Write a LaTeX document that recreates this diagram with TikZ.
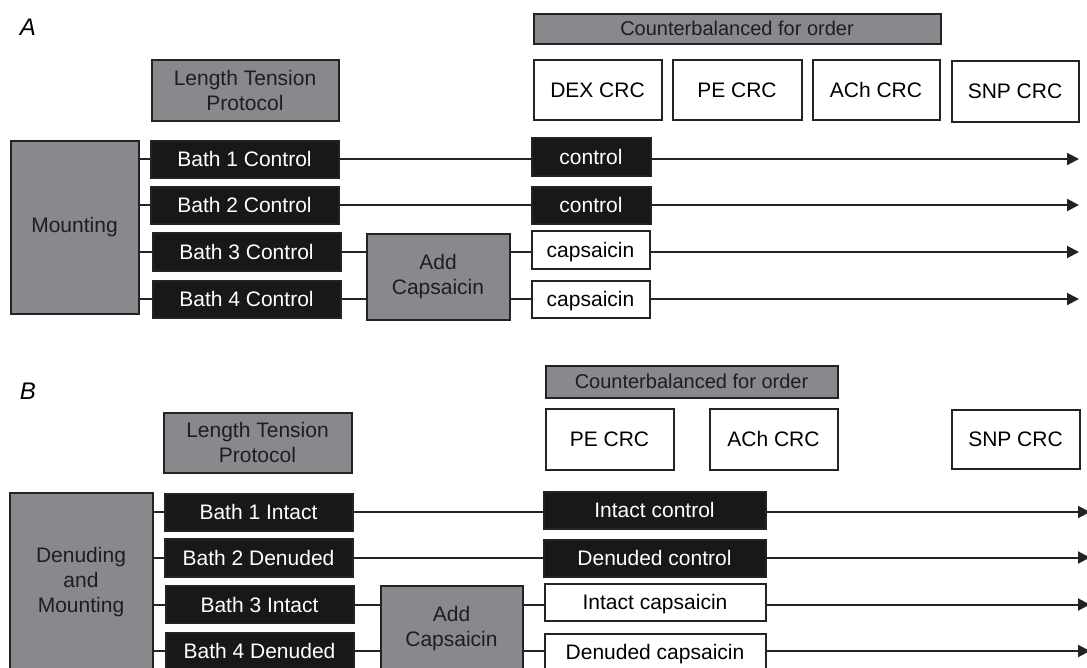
\documentclass[tikz,border=0pt]{standalone}
\usepackage{fontspec}
\setmainfont{Liberation Sans}
\usetikzlibrary{arrows.meta}

\definecolor{boxgray}{RGB}{136,137,140}
\definecolor{boxline}{RGB}{35,35,35}
\definecolor{barblack}{RGB}{26,23,24}
\definecolor{textdark}{RGB}{30,30,30}

\tikzset{
  box/.style={draw=boxline, line width=2pt, inner sep=0pt, align=center,
              font=\fontsize{21}{25}\selectfont},
  boxsize/.style 2 args={minimum width=#1pt, minimum height=#2pt},
  oneline/.style={text height=15pt, text depth=0pt},
  graybox/.style={box, fill=boxgray, text=textdark},
  bathbox/.style={box, oneline, fill=barblack, text=white},
  whitebox/.style={box, oneline, fill=white, text=black},
  cbobox/.style={graybox, font=\fontsize{20}{24}\selectfont},
  link/.style={draw=boxline, line width=2pt},
  flow/.style={link, -{Triangle[length=12pt, width=12pt]}},
  panel/.style={font=\fontsize{24}{28}\selectfont\itshape, inner sep=0pt},
}

\begin{document}
\begin{tikzpicture}[x=1pt, y=-1pt]

  \useasboundingbox (0,0) rectangle (1087,667);
  \clip (0,0) rectangle (1087,667);

  % --- Panel A ---
  \node[panel] (labA) at (28,27) {A};

  \node[graybox, boxsize={187}{61}] (ltpA) at (245,90) {Length Tension\\Protocol};
  \node[cbobox, boxsize={407}{30}] (cboA) at (737,28.5) {Counterbalanced for order};

  \node[whitebox, boxsize={128}{60}] (dexA) at (597.5,89.5) {DEX CRC};
  \node[whitebox, boxsize={129}{60}] (peA)  at (737,89.5)   {PE CRC};
  \node[whitebox, boxsize={127}{60}] (achA) at (876,89.5)   {ACh CRC};
  \node[whitebox, boxsize={127}{61}] (snpA) at (1015,91)    {SNP CRC};

  \node[graybox, boxsize={128}{173}] (mntA) at (74.5,227) {Mounting};

  \node[bathbox, boxsize={188}{37}] (bA1) at (244.5,159) {Bath 1 Control};
  \node[bathbox, boxsize={188}{37}] (bA2) at (244.5,205) {Bath 2 Control};
  \node[bathbox, boxsize={188}{38}] (bA3) at (246.5,252) {Bath 3 Control};
  \node[bathbox, boxsize={188}{37}] (bA4) at (246.5,299) {Bath 4 Control};

  \node[graybox, boxsize={143}{86}] (addA) at (438,276.5) {Add\\Capsaicin};

  \node[bathbox, boxsize={119}{38}]  (ctlA1) at (591,156.5) {control};
  \node[bathbox, boxsize={119}{37}]  (ctlA2) at (591,205)   {control};
  \node[whitebox, boxsize={118}{38}] (capA1) at (590.5,250) {capsaicin};
  \node[whitebox, boxsize={118}{37}] (capA2) at (590.5,299) {capsaicin};

  \coordinate (eA1) at (1079,159);
  \coordinate (eA2) at (1079,205);
  \coordinate (eA3) at (1079,252);
  \coordinate (eA4) at (1079,299);

  \foreach \i in {1,2,3,4}
    \draw[link] (mntA.east |- bA\i) -- (bA\i.west);

  \foreach \i in {1,2} {
    \draw[link] (bA\i.east) -- (ctlA\i.west |- bA\i);
    \draw[flow] (ctlA\i.east |- bA\i) -- (eA\i);
  }

  \foreach \i/\j in {3/1,4/2} {
    \draw[link] (bA\i.east) -- (addA.west |- bA\i);
    \draw[link] (addA.east |- bA\i) -- (capA\j.west |- bA\i);
    \draw[flow] (capA\j.east |- bA\i) -- (eA\i);
  }

  % --- Panel B ---
  \node[panel] (labB) at (28,391) {B};

  \node[graybox, boxsize={188}{60}] (ltpB) at (257.5,442.5) {Length Tension\\Protocol};
  \node[cbobox, boxsize={292}{32}] (cboB) at (691.5,381.5) {Counterbalanced for order};

  \node[whitebox, boxsize={128}{61}] (peB)  at (609.5,439)  {PE CRC};
  \node[whitebox, boxsize={128}{61}] (achB) at (773.5,439)  {ACh CRC};
  \node[whitebox, boxsize={128}{59}] (snpB) at (1015.5,439) {SNP CRC};

  \node[graybox, boxsize={143}{178}] (mntB) at (81,582) {Denuding\\and\\Mounting};

  \node[bathbox, boxsize={188}{37}] (bB1) at (258.5,512)   {Bath 1 Intact};
  \node[bathbox, boxsize={188}{38}] (bB2) at (258.5,557.5) {Bath 2 Denuded};
  \node[bathbox, boxsize={188}{37}] (bB3) at (259.5,604.5) {Bath 3 Intact};
  \node[bathbox, boxsize={188}{37}] (bB4) at (259.5,651)   {Bath 4 Denuded};

  \node[graybox, boxsize={142}{87}] (addB) at (451.5,629) {Add\\Capsaicin};

  \node[bathbox, boxsize={222}{37}]  (ctlB1) at (654.5,510) {Intact control};
  \node[bathbox, boxsize={222}{37}]  (ctlB2) at (654.5,558) {Denuded control};
  \node[whitebox, boxsize={221}{37}] (capB1) at (655,602)   {Intact capsaicin};
  \node[whitebox, boxsize={221}{37}] (capB2) at (655,652)   {Denuded capsaicin};

  \coordinate (eB1) at (1090,512);
  \coordinate (eB2) at (1090,557.5);
  \coordinate (eB3) at (1090,604.5);
  \coordinate (eB4) at (1090,651);

  \foreach \i in {1,2,3,4}
    \draw[link] (mntB.east |- bB\i) -- (bB\i.west);

  \foreach \i in {1,2} {
    \draw[link] (bB\i.east) -- (ctlB\i.west |- bB\i);
    \draw[flow] (ctlB\i.east |- bB\i) -- (eB\i);
  }

  \foreach \i/\j in {3/1,4/2} {
    \draw[link] (bB\i.east) -- (addB.west |- bB\i);
    \draw[link] (addB.east |- bB\i) -- (capB\j.west |- bB\i);
    \draw[flow] (capB\j.east |- bB\i) -- (eB\i);
  }

\end{tikzpicture}
\end{document}
